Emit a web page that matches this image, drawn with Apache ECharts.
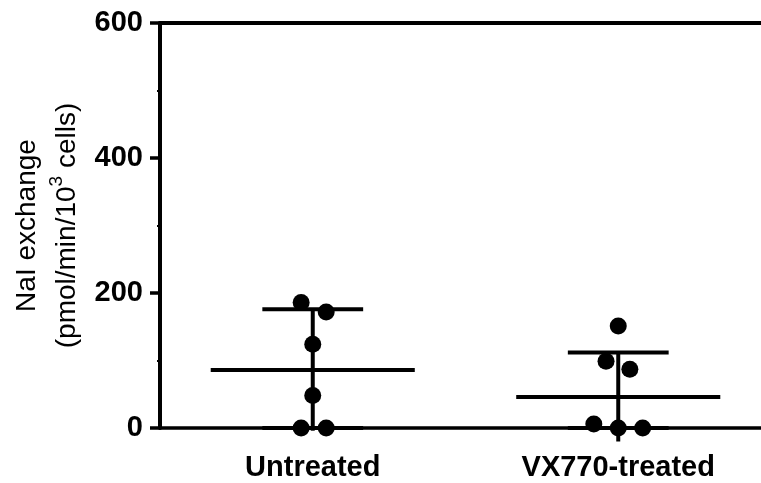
<!DOCTYPE html>
<html>
<head>
<meta charset="utf-8">
<script src="https://cdn.jsdelivr.net/npm/echarts@6/dist/echarts.min.js"></script>
<style>
  html, body { margin: 0; padding: 0; background: #fff; }
  #chart { width: 761px; height: 483px; }
</style>
</head>
<body>
<div id="chart"></div>
<script>
// groups on the x axis
var categories = ["Untreated", "VX770-treated"];
// individual points, per group
var untreatedVals = [186, 172, 124, 48, 0, 0];
var untreatedJitter = [-0.038, 0.044, 0, 0, -0.038, 0.044];
var treatedVals = [151, 99, 87, 6, 0, 0];
var treatedJitter = [0, -0.04, 0.038, -0.08, 0, 0.08];
// mean and SD bars as drawn
var means = [86, 46];
var sds = [90, 66];
var yTicks = [0, 200, 400, 600];

var font = "Liberation Sans, Arial, Helvetica, sans-serif";

var points = [];
untreatedVals.forEach(function (v, i) { points.push([0 + untreatedJitter[i], v]); });
treatedVals.forEach(function (v, i) { points.push([1 + treatedJitter[i], v]); });

var bars = means.map(function (m, i) { return [i, m, sds[i]]; });

var chart = echarts.init(document.getElementById("chart"));
chart.setOption({
  animation: false,
  grid: { left: 160, right: -10, top: 23, bottom: 55, outerBoundsMode: "none", containLabel: false },
  xAxis: [
    {
      type: "category",
      data: categories,
      position: "bottom",
      boundaryGap: true,
      axisLine: { lineStyle: { color: "#000", width: 3.5 } },
      axisTick: { show: false },
      axisLabel: {
        color: "#000",
        fontFamily: font,
        fontWeight: "bold",
        fontSize: 29,
        margin: 25
      },
      splitLine: { show: false }
    },
    {
      type: "value",
      min: -0.5,
      max: 1.5,
      show: false
    },
    {
      type: "category",
      data: categories,
      position: "top",
      axisLine: { lineStyle: { color: "#000", width: 4 } },
      axisTick: { show: false },
      axisLabel: { show: false },
      splitLine: { show: false }
    }
  ],
  yAxis: {
    type: "value",
    min: yTicks[0],
    max: yTicks[yTicks.length - 1],
    interval: 200,
    axisLine: { show: true, onZero: false, lineStyle: { color: "#000", width: 4 } },
    axisTick: { show: true, length: 10, lineStyle: { color: "#000", width: 3.5 } },
    minorTick: { show: true, splitNumber: 2, length: 3, lineStyle: { color: "#000", width: 2 } },
    splitLine: { show: false },
    axisLabel: {
      color: "#000",
      fontFamily: font,
      fontWeight: "bold",
      fontSize: 29,
      margin: 17
    },
    name: "{t|NaI exchange}\n{t|(pmol/min/10}{s|3}{t| cells)}",
    nameLocation: "middle",
    nameRotate: 90,
    nameGap: 73,
    nameMoveOverlap: false,
    nameTextStyle: {
      color: "#000",
      fontFamily: font,
      fontSize: 28,
      lineHeight: 40,
      rich: {
        t: { fontFamily: font, fontSize: 28, lineHeight: 40, color: "#000" },
        s: { fontFamily: font, fontSize: 19, lineHeight: 22, verticalAlign: "top", color: "#000" }
      }
    }
  },
  series: [
    {
      type: "custom",
      xAxisIndex: 1,
      clip: false,
      z: 1,
      data: bars,
      renderItem: function (params, api) {
        var x = api.value(0), m = api.value(1), s = api.value(2);
        var mid = api.coord([x, m]);
        var up = api.coord([x, m + s]);
        var low = api.coord([x, m - s]);
        var lowCap = api.coord([x, Math.max(0, m - s)]);
        var halfMean = api.size([0.334, 0])[0];
        var halfCap = api.size([0.165, 0])[0];
        var st = { stroke: "#000", lineWidth: 4 };
        return {
          type: "group",
          children: [
            { type: "line", shape: { x1: mid[0] - halfMean, y1: mid[1], x2: mid[0] + halfMean, y2: mid[1] }, style: st },
            { type: "line", shape: { x1: up[0], y1: up[1], x2: low[0], y2: low[1] }, style: st },
            { type: "line", shape: { x1: up[0] - halfCap, y1: up[1], x2: up[0] + halfCap, y2: up[1] }, style: st },
            { type: "line", shape: { x1: lowCap[0] - halfCap, y1: lowCap[1], x2: lowCap[0] + halfCap, y2: lowCap[1] }, style: st }
          ]
        };
      }
    },
    {
      type: "scatter",
      xAxisIndex: 1,
      symbol: "circle",
      symbolSize: 17,
      clip: false,
      z: 3,
      itemStyle: { color: "#000", opacity: 1 },
      data: points
    }
  ]
});
</script>
</body>
</html>
